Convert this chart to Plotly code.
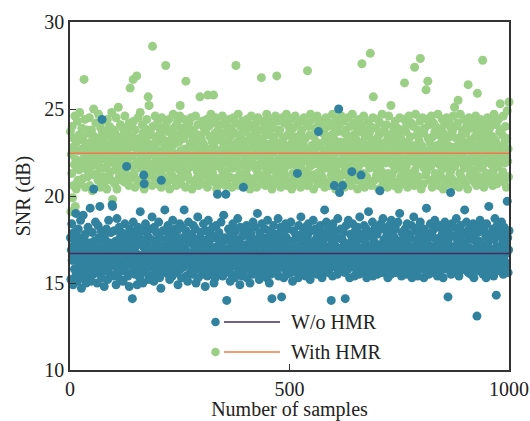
import plotly.graph_objects as go

# ---------------- data ----------------
wo_hmr = [
17.6,15.2,16.9,18.4,16.3,17.1,14.9,16.6,17.9,15.8,16.4,17.3,19.0,15.5,16.8,17.7,15.1,16.2,18.1,16.0,
16.9,17.4,15.6,18.6,16.5,14.7,17.0,15.9,16.3,18.9,15.3,17.5,16.7,16.1,17.8,16.6,15.0,17.2,15.7,16.4,
18.2,15.4,16.8,17.3,15.9,19.3,16.5,15.1,17.0,16.2,17.9,16.6,15.5,20.4,17.4,16.0,15.7,18.5,16.9,16.3,
17.1,15.0,16.4,18.3,15.6,17.6,16.2,19.4,15.8,16.7,18.0,15.3,24.4,17.2,16.5,16.0,17.8,14.8,16.9,17.5,
15.7,16.6,18.1,16.1,17.0,15.2,16.4,18.6,15.9,17.3,16.7,15.5,17.9,16.8,16.2,19.5,19.4,17.1,15.4,16.5,
18.0,16.0,16.9,17.4,14.9,16.3,18.7,15.8,17.0,16.6,15.6,18.2,16.8,17.6,15.2,16.2,17.9,15.9,17.2,16.5,
15.1,17.7,16.4,15.7,18.4,16.1,17.3,16.0,21.7,16.9,17.8,15.4,17.0,16.6,14.8,18.1,16.2,16.5,17.5,15.6,
16.8,14.1,17.3,18.5,15.9,16.5,17.0,15.5,17.9,16.7,16.1,17.2,14.9,16.3,18.2,15.8,17.6,16.6,15.3,19.1,
16.4,17.5,15.7,18.0,16.2,15.0,17.1,21.2,20.7,16.1,16.8,18.4,15.6,17.3,16.6,16.0,17.7,16.3,15.2,17.0,
18.1,15.9,16.9,17.5,15.4,16.5,18.8,16.1,17.0,16.4,15.1,18.2,16.7,15.7,17.4,16.2,17.9,15.5,16.8,17.2,
16.1,18.5,16.4,15.3,17.6,16.6,14.7,20.9,17.1,15.8,16.9,18.0,16.0,17.0,16.3,19.2,15.6,16.8,17.5,16.0,
17.3,16.2,18.3,15.5,16.7,17.7,15.2,16.5,17.9,15.9,17.0,16.8,15.4,18.6,16.4,15.7,17.4,16.9,18.1,16.1,
16.6,17.6,15.6,18.0,16.2,14.9,17.1,16.0,16.9,18.4,15.8,17.2,16.4,15.3,18.2,16.7,17.6,15.9,16.3,19.2,
16.0,17.0,16.5,18.0,15.4,16.8,17.5,15.1,16.3,18.5,16.1,17.3,16.6,15.6,17.8,16.7,15.7,17.7,16.2,15.5,
18.3,16.4,17.1,15.9,16.9,18.1,15.0,17.4,16.0,16.7,18.8,15.3,17.1,16.3,15.8,17.6,16.5,17.9,16.0,16.8,
17.2,15.5,16.7,18.4,16.1,17.0,16.4,14.8,18.0,15.7,16.9,17.5,15.4,16.6,18.6,15.9,17.3,16.2,15.6,17.8,
16.6,17.7,15.8,16.4,18.2,16.0,17.0,15.0,16.8,17.6,15.3,16.3,18.3,15.9,17.1,20.1,16.5,15.5,17.9,16.9,
15.7,17.4,16.2,18.5,16.1,16.7,17.2,15.4,16.4,18.9,16.0,17.6,16.6,15.6,20.1,16.8,14.0,17.5,16.0,16.5,
18.1,15.8,17.0,16.3,15.1,17.9,16.7,15.5,17.3,16.4,18.4,16.0,16.9,17.6,15.3,16.5,18.0,16.1,17.1,16.2,
15.9,18.7,16.7,15.6,17.4,16.3,14.9,18.2,16.0,17.1,16.6,15.4,17.7,16.2,20.5,15.7,17.9,16.8,16.1,17.2,
16.4,18.3,15.3,17.0,16.7,15.8,18.0,16.3,17.6,15.0,16.9,17.8,16.0,17.3,16.5,15.5,18.5,16.2,16.0,17.1,
18.2,15.9,16.8,17.5,15.6,16.4,19.0,16.1,17.2,16.6,15.2,17.9,16.7,15.7,17.6,16.2,18.4,15.4,16.5,17.4,
16.0,17.1,16.3,18.1,15.8,16.9,17.6,15.3,16.7,18.6,16.0,17.0,16.4,15.0,18.0,16.8,15.5,17.3,16.2,14.1,
17.7,16.5,15.9,18.3,16.3,15.6,17.0,16.7,17.8,16.1,17.4,15.7,16.6,18.7,15.4,16.8,17.2,16.0,16.3,18.2,
16.7,14.2,17.5,16.0,16.4,17.9,15.3,17.1,16.9,15.8,18.4,16.2,17.6,15.5,16.5,18.1,15.9,17.0,16.7,16.1,
17.3,16.3,18.5,15.6,16.8,17.4,15.1,16.6,18.0,16.0,17.0,16.4,15.7,17.8,16.9,16.0,17.6,21.3,16.3,15.3,
18.3,16.7,16.1,17.2,16.2,18.8,15.8,17.0,16.5,15.5,17.9,16.8,17.5,15.9,16.3,18.2,15.4,17.1,16.7,16.0,
17.7,16.4,18.4,15.7,16.9,17.3,15.2,16.6,18.0,16.0,17.0,16.2,15.6,18.6,16.7,16.1,17.4,16.2,18.1,15.8,
16.8,17.6,15.5,17.9,16.5,23.7,16.0,17.1,16.3,18.3,15.9,16.9,17.2,15.3,16.7,17.9,15.7,17.5,16.4,19.2,
16.0,17.1,16.6,18.5,16.1,16.2,17.7,15.6,18.2,16.7,15.8,17.0,16.3,17.8,14.0,16.8,17.4,15.4,18.4,16.5,
16.0,20.6,17.2,16.3,18.0,15.9,16.9,17.6,15.5,18.7,16.6,25.0,16.1,20.2,17.0,16.4,18.1,15.7,16.7,17.5,
20.6,16.0,17.9,16.2,17.3,15.6,14.1,16.7,18.3,16.0,17.0,16.3,15.8,18.6,16.9,17.1,15.3,16.5,17.8,16.1,
17.4,21.4,16.4,18.4,15.9,16.8,17.7,15.4,16.6,18.0,16.0,17.2,16.2,15.7,18.2,16.7,17.5,15.5,16.3,18.8,
16.1,17.0,21.2,16.5,17.8,15.8,16.9,17.6,15.6,18.3,16.3,16.1,17.3,16.7,18.1,15.3,16.8,17.0,15.9,19.1,
16.2,17.7,15.7,17.9,16.6,16.0,17.1,16.4,18.5,15.4,16.9,17.4,16.1,16.3,18.2,15.8,17.0,16.7,17.8,15.5,
16.7,18.0,16.1,17.2,16.3,20.3,15.9,18.4,16.8,17.0,15.6,16.5,18.7,16.1,17.5,16.2,15.7,18.1,16.7,17.1,
15.8,17.8,16.4,15.3,17.6,16.9,18.3,16.0,16.3,17.3,15.5,18.6,16.6,16.1,17.0,16.5,18.0,15.9,17.6,16.2,
18.2,15.6,16.8,17.4,16.1,16.3,18.5,15.7,17.0,16.6,19.0,16.0,17.2,16.3,15.4,17.9,16.7,17.5,16.0,16.4,
17.7,15.8,18.1,16.2,16.9,15.5,17.3,18.4,15.9,16.5,17.0,16.1,17.8,16.6,15.6,17.6,16.8,18.3,15.3,16.3,
17.1,16.0,18.8,16.6,15.7,17.0,16.2,18.0,16.0,17.4,16.4,15.4,18.2,16.9,17.7,15.9,16.1,18.5,15.8,17.2,
16.7,17.9,16.1,17.5,16.3,15.3,18.1,16.8,17.0,15.7,16.6,19.3,16.0,17.3,16.2,17.8,15.5,16.7,17.7,16.0,
18.4,16.5,15.8,17.1,16.9,18.0,15.6,16.2,17.6,16.1,18.6,16.4,17.0,15.9,16.7,18.2,15.4,17.4,16.2,16.0,
17.2,16.7,18.3,15.7,16.8,17.7,16.0,16.3,17.9,15.3,17.3,16.6,16.1,18.5,16.2,17.0,15.8,16.9,18.1,15.9,
14.2,17.5,16.4,17.8,16.1,16.7,20.2,15.5,17.1,18.4,16.2,15.9,17.7,16.5,18.2,15.6,16.8,17.0,16.1,18.7,
16.3,16.0,17.4,16.6,18.0,15.4,16.9,17.6,15.7,18.3,16.2,17.2,16.0,16.5,17.9,15.8,17.0,16.4,19.2,16.1,
17.3,16.2,18.5,15.9,16.8,17.7,15.6,16.5,18.1,16.0,17.0,16.7,15.5,17.8,16.3,17.5,16.0,18.4,16.6,15.3,
17.6,16.1,15.8,18.2,16.9,17.1,13.1,16.2,17.9,16.4,15.7,17.4,16.6,18.6,16.0,17.0,16.2,15.9,18.3,16.8,
15.5,17.2,16.5,18.0,16.0,16.7,17.7,15.3,18.4,16.1,17.3,16.2,16.4,19.4,15.8,17.0,16.8,15.6,17.8,16.3,
17.6,16.1,18.1,16.6,15.4,17.5,16.9,18.7,15.9,16.3,14.3,17.1,18.3,15.7,16.7,17.7,16.1,16.2,17.9,16.0,
17.0,16.4,18.5,15.8,16.8,17.4,15.5,16.5,18.2,16.1,17.2,16.2,17.8,15.9,16.7,19.7,17.6,15.6,16.9,18.0,
]

with_hmr = [
23.7,19.1,22.4,21.3,24.0,19.9,22.8,20.6,23.3,21.8,24.6,19.4,22.1,20.4,23.1,21.6,24.3,20.9,22.6,23.5,
21.5,24.8,22.0,20.7,23.4,21.9,23.9,22.7,21.0,23.2,21.6,26.7,22.3,24.4,20.5,22.9,21.9,23.8,22.5,21.1,
23.6,21.4,22.7,24.5,20.6,22.2,23.1,21.7,23.8,22.6,20.3,23.5,21.8,25.0,22.4,21.2,23.0,22.0,24.2,22.3,
21.3,23.3,22.8,20.9,24.7,21.7,23.0,22.4,20.5,23.9,22.1,23.5,22.2,21.1,24.3,21.6,23.2,22.7,20.8,23.7,
22.5,21.6,23.6,20.4,24.4,22.2,21.9,22.9,21.2,24.0,22.5,21.4,23.4,20.9,24.8,22.3,19.8,23.1,21.9,23.8,
22.8,20.7,23.6,21.5,24.5,22.6,20.4,23.0,22.0,25.1,22.2,21.1,23.3,21.8,24.1,22.7,21.3,22.9,20.9,23.9,
22.0,23.5,22.4,20.8,24.6,21.5,23.2,22.5,21.2,23.7,22.2,21.9,23.4,20.6,24.2,22.8,26.2,22.9,21.0,24.0,
22.3,21.7,23.4,26.7,24.3,21.3,22.8,20.5,23.8,23.1,21.9,26.9,22.5,20.9,24.5,22.0,23.3,22.6,20.7,24.8,
21.6,22.9,22.1,21.0,24.1,21.9,23.6,22.7,20.4,23.9,22.3,21.4,23.2,20.8,24.4,22.2,21.7,25.7,22.9,25.2,
22.7,21.2,23.8,21.8,23.5,22.4,20.6,28.6,24.0,21.5,23.0,22.8,21.0,24.6,22.0,23.4,22.3,20.7,24.2,21.7,
23.1,22.6,20.9,23.9,21.3,23.6,22.1,20.5,24.5,21.9,23.3,22.5,21.1,23.9,21.6,22.9,22.7,27.5,24.1,21.8,
22.8,20.8,23.7,22.0,24.4,22.3,20.4,23.2,21.4,23.8,22.7,21.2,23.4,21.7,24.7,22.1,20.9,23.0,22.0,24.0,
22.4,20.6,23.5,21.8,24.3,22.1,21.0,23.1,21.5,24.6,25.2,22.6,20.7,23.7,21.9,23.9,22.2,21.1,23.3,21.3,
24.4,22.7,20.5,26.6,21.7,24.0,22.5,21.2,23.6,21.6,24.2,22.2,20.9,23.0,22.0,24.5,22.8,20.4,23.4,21.7,
23.8,22.3,20.8,23.2,22.0,24.6,22.7,21.0,22.9,21.4,24.1,22.4,20.6,23.5,21.8,25.7,22.1,21.1,23.3,21.5,
24.3,22.6,20.7,23.0,21.9,23.9,22.3,21.2,23.7,21.7,24.4,22.7,20.5,25.8,21.6,24.0,22.5,20.9,23.4,22.0,
24.7,22.2,21.1,23.1,21.3,24.2,25.8,22.8,20.8,23.6,21.7,24.5,22.4,20.4,23.2,22.0,23.8,22.6,21.0,23.3,
21.8,24.1,22.1,20.7,23.5,21.5,24.6,22.7,21.2,23.0,21.9,24.3,22.4,20.6,23.7,21.4,24.0,22.6,20.9,23.2,
22.0,24.4,22.3,21.1,23.4,21.7,23.9,22.8,20.5,22.9,21.6,24.5,22.5,21.0,23.6,22.0,24.2,27.5,22.2,20.8,
23.1,21.7,24.7,22.6,20.6,23.5,21.3,24.0,22.7,21.2,23.3,21.8,24.3,22.4,20.9,23.0,22.0,23.8,22.1,20.7,
23.7,21.5,24.4,22.7,21.1,23.2,21.8,24.1,22.4,20.4,23.4,22.0,24.6,22.2,20.8,23.1,21.9,23.9,22.8,21.0,
23.6,21.6,24.2,22.5,20.5,22.9,21.4,24.5,22.3,21.2,23.3,21.8,23.8,22.6,20.7,26.8,22.0,24.3,22.1,20.9,
23.1,21.7,24.0,22.8,20.6,23.5,21.3,24.7,22.4,21.1,23.7,21.7,24.4,22.2,20.8,23.0,22.0,24.1,22.7,20.4,
23.4,21.5,23.9,22.5,21.0,23.2,21.9,24.6,22.8,20.7,26.9,21.6,24.3,22.1,21.2,23.6,21.8,23.8,22.6,20.5,
23.0,22.0,24.5,22.3,20.9,23.3,21.4,24.2,22.5,21.1,22.9,21.7,24.7,22.7,20.6,23.5,22.0,24.0,22.2,20.8,
23.7,21.8,24.4,22.7,20.4,23.1,21.3,23.9,22.4,21.0,23.4,21.9,24.6,22.1,20.7,23.0,21.5,24.1,22.8,21.2,
23.2,21.8,24.3,22.4,20.5,23.6,21.6,23.8,22.6,20.9,23.0,22.0,24.5,22.2,21.1,23.3,21.4,24.2,22.7,20.6,
27.2,22.0,24.0,22.5,20.8,23.5,21.7,24.7,22.3,21.2,22.9,21.8,24.4,22.7,20.4,23.4,21.9,23.9,22.4,21.0,
23.1,21.3,24.6,22.1,20.7,23.7,21.8,24.1,22.8,20.9,23.0,21.5,24.3,22.3,21.1,23.6,22.0,23.8,22.6,20.5,
23.2,21.6,24.5,22.2,20.8,23.4,22.0,24.0,22.7,20.6,22.9,21.8,24.2,22.4,21.2,23.5,21.4,24.7,22.2,21.0,
23.3,21.9,23.9,22.7,20.4,23.0,21.7,24.4,22.5,20.9,23.7,21.3,24.1,22.0,21.1,23.1,22.0,24.6,22.8,20.7,
22.9,21.8,24.3,22.3,20.5,23.6,21.5,23.8,22.6,21.2,23.2,22.0,24.5,22.2,20.8,23.4,21.6,24.0,22.7,20.6,
22.9,21.8,24.7,22.4,21.0,23.5,21.4,24.2,22.2,20.9,23.3,22.0,23.9,22.7,20.4,23.0,21.7,24.4,22.1,21.2,
23.7,21.9,22.5,24.1,27.6,20.7,23.1,21.3,24.6,22.7,20.5,23.4,21.9,23.8,22.3,21.1,22.9,22.0,24.3,22.2,
20.8,23.6,21.6,28.2,24.0,22.6,20.6,23.2,21.8,24.5,25.7,22.8,20.9,22.9,22.0,23.9,22.4,21.2,23.3,21.5,
24.4,22.2,20.4,23.5,21.7,24.2,22.7,21.0,23.0,21.4,24.7,22.1,20.7,23.7,21.9,23.8,22.5,21.1,23.1,21.9,
24.1,22.8,20.5,23.4,21.3,24.6,22.3,20.9,22.9,22.0,25.2,22.2,21.2,23.6,21.8,24.0,22.6,20.6,23.2,21.5,
24.3,22.4,20.8,22.9,22.0,23.9,22.8,20.4,23.5,21.6,24.5,22.2,21.1,23.3,21.9,23.8,22.7,20.7,23.0,21.4,
24.4,26.5,22.1,21.0,23.7,21.7,24.1,22.5,20.5,23.1,22.0,24.6,22.8,20.9,23.4,21.3,24.2,22.3,21.2,22.9,
22.0,24.0,22.6,20.6,27.4,21.5,24.7,22.2,20.8,23.5,21.8,23.8,22.8,21.1,23.2,22.0,24.3,27.9,22.4,20.4,
22.9,21.9,24.5,22.7,20.7,23.6,21.6,23.9,22.2,21.2,26.1,21.4,24.4,22.5,26.6,23.3,22.0,24.1,22.1,20.9,
23.0,21.7,24.6,22.8,20.5,23.4,22.0,24.2,22.3,21.0,23.7,21.3,24.0,22.6,20.8,22.9,21.9,24.7,22.2,20.6,
23.5,21.8,23.8,22.4,21.1,23.1,21.5,24.4,22.8,20.4,23.6,21.9,24.1,22.1,20.9,23.2,22.0,24.5,22.7,20.7,
22.9,21.6,24.3,22.3,21.2,23.4,21.4,23.9,22.5,21.0,23.7,22.0,24.6,22.8,20.6,25.1,21.7,24.0,22.4,20.8,
23.3,22.0,24.2,25.5,22.6,20.5,23.0,21.3,24.7,22.2,21.1,23.5,21.9,23.8,22.4,20.9,23.1,21.6,24.4,22.8,
20.7,23.6,22.0,24.1,22.1,20.4,26.4,21.8,24.5,22.7,21.2,23.2,21.5,23.9,22.5,21.0,22.9,22.0,24.3,22.3,
20.8,23.4,21.4,24.6,22.8,20.6,23.7,25.9,21.7,24.0,22.4,21.1,23.1,22.0,24.4,22.2,20.9,23.5,21.6,27.8,
23.8,22.6,20.5,22.9,21.9,24.2,22.8,21.2,23.3,21.3,24.5,22.4,20.8,23.6,22.0,23.9,22.1,21.0,23.0,21.8,
24.3,22.7,20.6,23.4,21.5,24.7,22.3,21.1,23.2,22.0,24.1,22.5,20.7,22.9,21.7,24.4,22.8,20.9,23.7,25.3,
22.0,23.8,22.2,21.2,23.5,21.4,24.6,22.6,20.8,23.1,21.9,24.0,22.4,20.5,23.3,24.9,22.0,22.7,21.1,25.4,
]

samples = list(range(1, len(wo_hmr) + 1))
mean_wo = 16.7      # average line, W/o HMR
mean_with = 22.45   # average line, With HMR
series_names = ["W/o HMR", "With HMR"]
x_ticks = [0, 500, 1000]
y_ticks = [10, 15, 20, 25, 30]

BLUE = "#31829f"
GREEN = "#9bcf86"
PURPLE = "#472b5e"
ORANGE = "#f6774c"
FONT = "Liberation Serif, Times New Roman, serif"

fig = go.Figure()
fig.add_trace(go.Scatter(x=samples, y=with_hmr, mode="markers", cliponaxis=False,
                         marker=dict(size=9, color=GREEN, line=dict(width=0)),
                         showlegend=False))
fig.add_trace(go.Scatter(x=samples, y=wo_hmr, mode="markers", cliponaxis=False,
                         marker=dict(size=9, color=BLUE, line=dict(width=0)),
                         showlegend=False))

# mean lines
fig.add_shape(type="line", xref="paper", yref="y", x0=0, x1=1, y0=mean_wo, y1=mean_wo,
              line=dict(color=PURPLE, width=1.5))
fig.add_shape(type="line", xref="paper", yref="y", x0=0, x1=1, y0=mean_with, y1=mean_with,
              line=dict(color=ORANGE, width=1.5))

# custom legend (marker + line + text)
L, T, W, H = 70, 22, 439, 348
def px(xp): return (xp - L) / W
def py(yp): return (T + H - yp) / H
for name, mc, lc, yp in [(series_names[0], BLUE, PURPLE, 322), (series_names[1], GREEN, ORANGE, 352)]:
    fig.add_shape(type="circle", xref="paper", yref="paper", xsizemode="pixel", ysizemode="pixel",
                  xanchor=px(215.5), yanchor=py(yp), x0=-4.3, x1=4.3, y0=-4.3, y1=4.3,
                  fillcolor=mc, line=dict(width=0))
    fig.add_shape(type="line", xref="paper", yref="paper", x0=px(224), x1=px(280),
                  y0=py(yp), y1=py(yp), line=dict(color=lc, width=1.5))
    fig.add_annotation(xref="paper", yref="paper", x=px(289), y=py(yp), text=name,
                       showarrow=False, xanchor="left", yanchor="middle",
                       font=dict(family=FONT, size=20, color="#222"))

axis_common = dict(showline=True, linecolor="#333", linewidth=1.5, mirror=True,
                   ticks="inside", ticklen=6, tickwidth=1.2, tickcolor="#333",
                   showgrid=False, zeroline=False, automargin=False,
                   tickfont=dict(family=FONT, size=20, color="#222"))
fig.update_xaxes(range=[0, 1000], tickvals=x_ticks, ticktext=[str(v) for v in x_ticks],
                 title=dict(text="Number of samples", font=dict(family=FONT, size=20, color="#222"),
                            standoff=2),
                 **axis_common)
fig.update_yaxes(range=[10, 30], tickvals=y_ticks, ticktext=[str(v) for v in y_ticks],
                 title=dict(text="SNR (dB)", font=dict(family=FONT, size=20, color="#222"),
                            standoff=8),
                 **axis_common)

fig.update_layout(width=530, height=421, margin=dict(l=L, r=530 - L - W, t=T, b=421 - T - H),
                  font=dict(family=FONT, size=20, color="#222"),
                  plot_bgcolor="white", paper_bgcolor="white", showlegend=False)

fig.write_html("out.html")
